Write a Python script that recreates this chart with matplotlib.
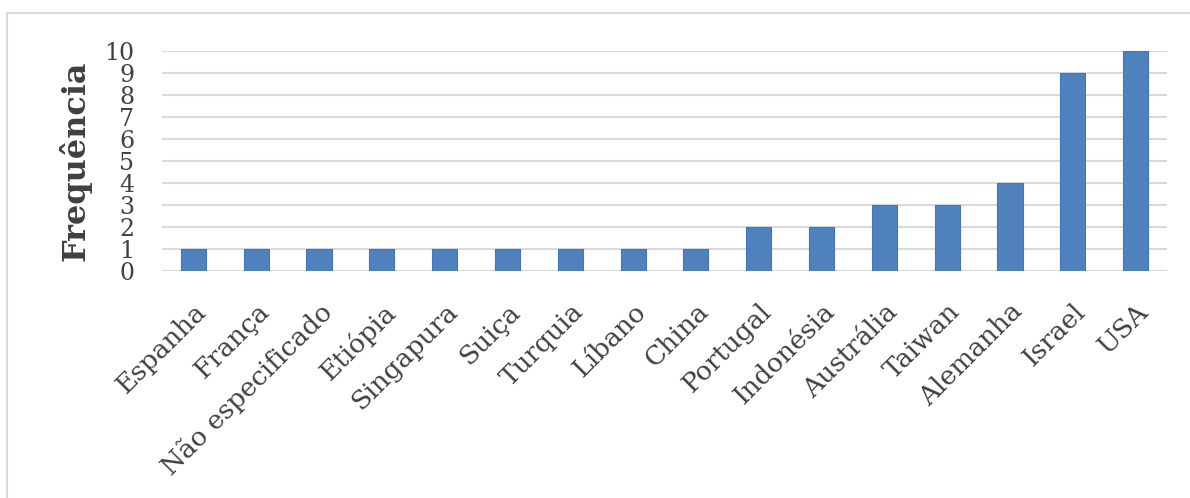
import matplotlib
matplotlib.use("Agg")
import matplotlib.pyplot as plt
from matplotlib.patches import Rectangle

paises = ["Espanha", "França", "Não especificado", "Etiópia", "Singapura", "Suiça",
          "Turquia", "Líbano", "China", "Portugal", "Indonésia", "Austrália",
          "Taiwan", "Alemanha", "Israel", "USA"]
freq = [1, 1, 1, 1, 1, 1, 1, 1, 1, 2, 2, 3, 3, 4, 9, 10]
yticks = list(range(0, 11))

plt.rcParams['font.family'] = ['DejaVu Serif']

fig = plt.figure(figsize=(11.9, 4.98), dpi=100)
# moldura cinzenta do grafico
fig.patches.append(Rectangle((7/1190, -0.1), 1.2, (498-13)/498 + 0.1, transform=fig.transFigure,
                             fill=False, edgecolor='#d9d9d9', linewidth=1.5))
ax = fig.add_axes([162/1190, (498-271)/498, (1167-162)/1190, 220/498])

x = range(len(paises))
ax.bar(x, freq, width=0.4, color='#4f81bd', edgecolor='#4472c4', linewidth=0.8, zorder=3)
ax.set_xlim(-0.5, len(paises) - 0.5)
ax.set_ylim(0, 10)
ax.set_yticks(yticks)
ax.set_yticklabels([str(v) for v in yticks], fontsize=17, color='#404040')
ax.set_xticks(list(x))
ax.set_xticklabels(paises, rotation=45, ha='right', rotation_mode='anchor',
                   fontsize=19, color='#404040')
ax.tick_params(axis='y', length=0, pad=20)
ax.tick_params(axis='x', length=0, pad=20)
ax.grid(axis='y', color='#d9d9d9', linewidth=1.5, zorder=0)
for s in ax.spines.values():
    s.set_visible(False)
ax.set_ylabel("Frequência", fontsize=23, fontweight='bold', color='#404040', labelpad=9)

fig.savefig("out.png", dpi=100)
